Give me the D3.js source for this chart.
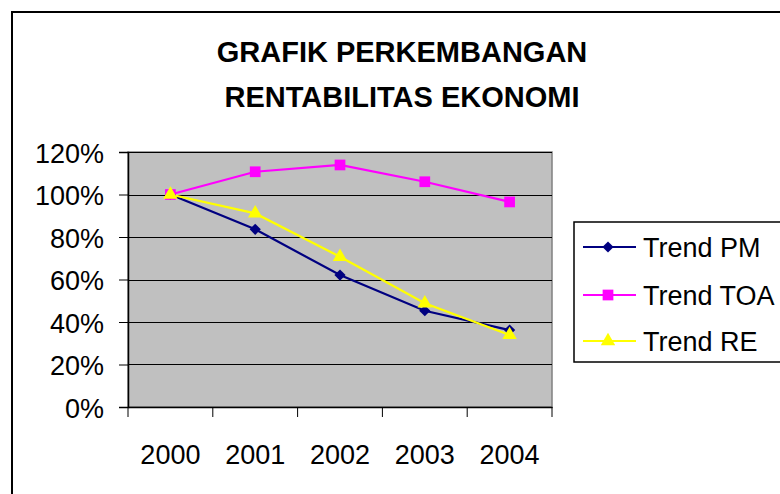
<!DOCTYPE html>
<html>
<head>
<meta charset="utf-8">
<script src="https://cdn.jsdelivr.net/npm/d3@7"></script>
<style>
  body { margin: 0; background: #fff; }
  text { font-family: "Liberation Sans", Arial, sans-serif; fill: #000; }
</style>
</head>
<body>
<div id="chart"></div>
<script>
// data
const years = ["2000", "2001", "2002", "2003", "2004"];
const trendPM  = [1.00, 0.836, 0.621, 0.453, 0.362];
const trendTOA = [1.00, 1.107, 1.139, 1.060, 0.965];
const trendRE  = [1.00, 0.911, 0.707, 0.488, 0.339];
const yTicks = [0, 0.2, 0.4, 0.6, 0.8, 1.0, 1.2];
const titleLines = ["GRAFIK PERKEMBANGAN", "RENTABILITAS EKONOMI"];

const series = [
  {name: "Trend PM",  values: trendPM,  color: "#000080", symbol: d3.symbolDiamond2, size: 80},
  {name: "Trend TOA", values: trendTOA, color: "#FF00FF", symbol: d3.symbolSquare,   size: 115},
  {name: "Trend RE",  values: trendRE,  color: "#FFFF00", symbol: d3.symbolTriangle, size: 90}
];

const W = 780, H = 494;
const plot = {left: 128, right: 552, top: 152, bottom: 407};

const svg = d3.select("#chart").append("svg")
    .attr("width", W)
    .attr("height", H);

// outer chart border (runs off the right/bottom edge)
svg.append("rect")
    .attr("x", 12).attr("y", 12)
    .attr("width", W).attr("height", H)
    .attr("fill", "none")
    .attr("stroke", "#000")
    .attr("stroke-width", 2);

// title
svg.append("text")
    .attr("x", 402)
    .attr("text-anchor", "middle")
    .style("font-size", "29px")
    .style("font-weight", "bold")
    .selectAll("tspan")
    .data(titleLines)
    .join("tspan")
    .attr("x", 402)
    .attr("y", (d, i) => 62 + i * 45)
    .text(d => d);

const x = d3.scaleBand()
    .domain(years)
    .range([plot.left, plot.right]);

const xEdge = d3.scaleLinear()
    .domain([0, years.length])
    .range([plot.left, plot.right]);

const y = d3.scaleLinear()
    .domain([0, 1.2])
    .range([plot.bottom, plot.top]);

// plot area
svg.append("rect")
    .attr("x", plot.left).attr("y", plot.top)
    .attr("width", plot.right - plot.left)
    .attr("height", plot.bottom - plot.top)
    .attr("fill", "#C0C0C0")
    .attr("stroke", "#808080")
    .attr("stroke-width", 1.5);

// gridlines
svg.append("g")
    .selectAll("line")
    .data(yTicks.filter(d => d > 0))
    .join("line")
    .attr("x1", plot.left).attr("x2", plot.right)
    .attr("y1", d => Math.round(y(d)) + 0.5)
    .attr("y2", d => Math.round(y(d)) + 0.5)
    .attr("stroke", "#000")
    .attr("stroke-width", 1);

// y axis
const yAxis = svg.append("g")
    .attr("transform", `translate(${plot.left},0)`)
    .call(d3.axisLeft(y)
        .tickValues(yTicks)
        .tickFormat(d3.format(".0%"))
        .tickSize(9)
        .tickPadding(15));
yAxis.select(".domain").attr("stroke", "#000").attr("stroke-width", 1.5);
yAxis.selectAll("text")
    .style("font-size", "27px")
    .style("font-family", "'Liberation Sans', Arial, sans-serif")
    .attr("dy", "0.38em");

// x axis
const xAxis = svg.append("g")
    .attr("transform", `translate(0,${plot.bottom})`)
    .call(d3.axisBottom(x).tickSize(0).tickPadding(38));
xAxis.select(".domain").attr("stroke", "#000").attr("stroke-width", 1.5);
xAxis.selectAll("text")
    .style("font-size", "27px")
    .style("font-family", "'Liberation Sans', Arial, sans-serif");
xAxis.selectAll(".edge")
    .data(d3.range(years.length + 1))
    .join("line")
    .attr("class", "edge")
    .attr("x1", d => xEdge(d)).attr("x2", d => xEdge(d))
    .attr("y1", 0).attr("y2", 10)
    .attr("stroke", "#000")
    .attr("stroke-width", 1);

const cx = d => x(d) + x.bandwidth() / 2;

const line = d3.line()
    .x((d, i) => cx(years[i]))
    .y(d => y(d));

// lines then markers
series.forEach(s => {
  svg.append("path")
      .datum(s.values)
      .attr("d", line)
      .attr("fill", "none")
      .attr("stroke", s.color)
      .attr("stroke-width", 2.2);
});
series.forEach(s => {
  svg.append("g")
      .selectAll("path")
      .data(s.values)
      .join("path")
      .attr("transform", (d, i) => `translate(${cx(years[i])},${y(d)})`)
      .attr("d", d3.symbol().type(s.symbol).size(s.size))
      .attr("fill", s.color);
});

// legend
const legend = svg.append("g");
legend.append("rect")
    .attr("x", 574).attr("y", 222)
    .attr("width", 260).attr("height", 140)
    .attr("fill", "#fff")
    .attr("stroke", "#000")
    .attr("stroke-width", 1.5);

const rowY = [247, 295, 341];
series.forEach((s, i) => {
  const g = legend.append("g").attr("transform", `translate(0,${rowY[i]})`);
  g.append("line")
      .attr("x1", 583).attr("x2", 636)
      .attr("stroke", s.color)
      .attr("stroke-width", 2);
  g.append("path")
      .attr("transform", "translate(608,0)")
      .attr("d", d3.symbol().type(s.symbol).size(s.size))
      .attr("fill", s.color);
  g.append("text")
      .attr("x", 643)
      .attr("dy", "0.36em")
      .style("font-size", "27px")
      .text(s.name);
});
</script>
</body>
</html>
